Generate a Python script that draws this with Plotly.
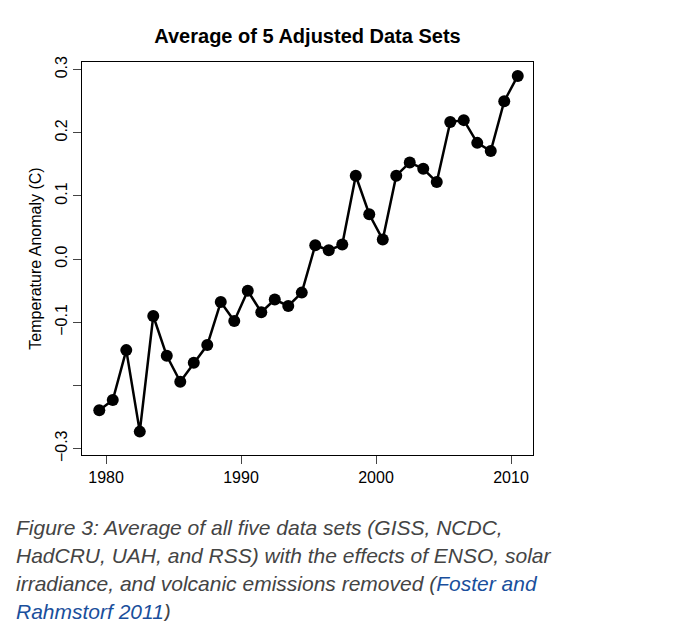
import plotly.graph_objects as go

years = [1979.5 + i for i in range(32)]
anomaly = [-0.239, -0.223, -0.144, -0.273, -0.090, -0.153, -0.194, -0.164, -0.136, -0.068,
           -0.098, -0.050, -0.084, -0.064, -0.074, -0.053, 0.022, 0.014, 0.023, 0.132,
           0.071, 0.031, 0.132, 0.153, 0.143, 0.122, 0.217, 0.220, 0.184, 0.171, 0.250, 0.290]
ytick_vals = [0.3, 0.2, 0.1, 0.0, -0.1, -0.2, -0.3]
ytick_text = ["0.3", "0.2", "0.1", "0.0", "−0.1", "", "−0.3"]
xtick_vals = [1980, 1990, 2000, 2010]

OFF = 8
W, H = 678, 621
L, R, T, B = 82 - OFF, 533 - OFF, 62 - OFF, 455 - OFF
fig = go.Figure(go.Scatter(x=years, y=anomaly, mode="lines+markers",
                           line=dict(color="black", width=2.5),
                           marker=dict(color="black", size=12)))
fig.update_layout(
    width=W, height=H, plot_bgcolor="white", paper_bgcolor="white", showlegend=False,
    margin=dict(l=L, r=W - R, t=T, b=H - B),
    font=dict(family="Liberation Sans, Arial", color="black"),
    title=dict(text="<b>Average of 5 Adjusted Data Sets</b>", x=(L + R) / 2 / W, xanchor="center",
               y=1 - (36 - OFF) / H, yanchor="middle", font=dict(size=20)),
)
fig.update_xaxes(range=[1978.22, 2011.63], tickvals=xtick_vals, ticks="outside", ticklen=8,
                 showgrid=False, zeroline=False, showline=True, linecolor="black", mirror=True,
                 tickfont=dict(size=16))
fig.update_yaxes(range=[-0.31, 0.312], tickvals=ytick_vals, ticktext=ytick_text, ticks="outside",
                 ticklen=8, tickangle=-90, showgrid=False, zeroline=False, showline=True,
                 linecolor="black", mirror=True, tickfont=dict(size=16),
                 title=dict(text="Temperature Anomaly (C)", font=dict(size=16), standoff=6))

lines = [
    "Figure 3: Average of all five data sets (GISS, NCDC,",
    "HadCRU, UAH, and RSS) with the effects of ENSO, solar",
    "irradiance, and volcanic emissions removed (<span style='color:#1a4f9c'>Foster and</span>",
    "<span style='color:#1a4f9c'>Rahmstorf 2011</span>)",
]
for i, t in enumerate(lines):
    fig.add_annotation(text="<i>" + t + "</i>", xref="paper", yref="paper",
                       x=(14 - OFF - L) / (R - L), xanchor="left",
                       y=(B - (527 - OFF + 28 * i)) / (B - T), yanchor="middle",
                       showarrow=False, font=dict(size=21, color="#444444",
                                                  family="Liberation Sans, Arial"))
fig.write_html("out.html")
